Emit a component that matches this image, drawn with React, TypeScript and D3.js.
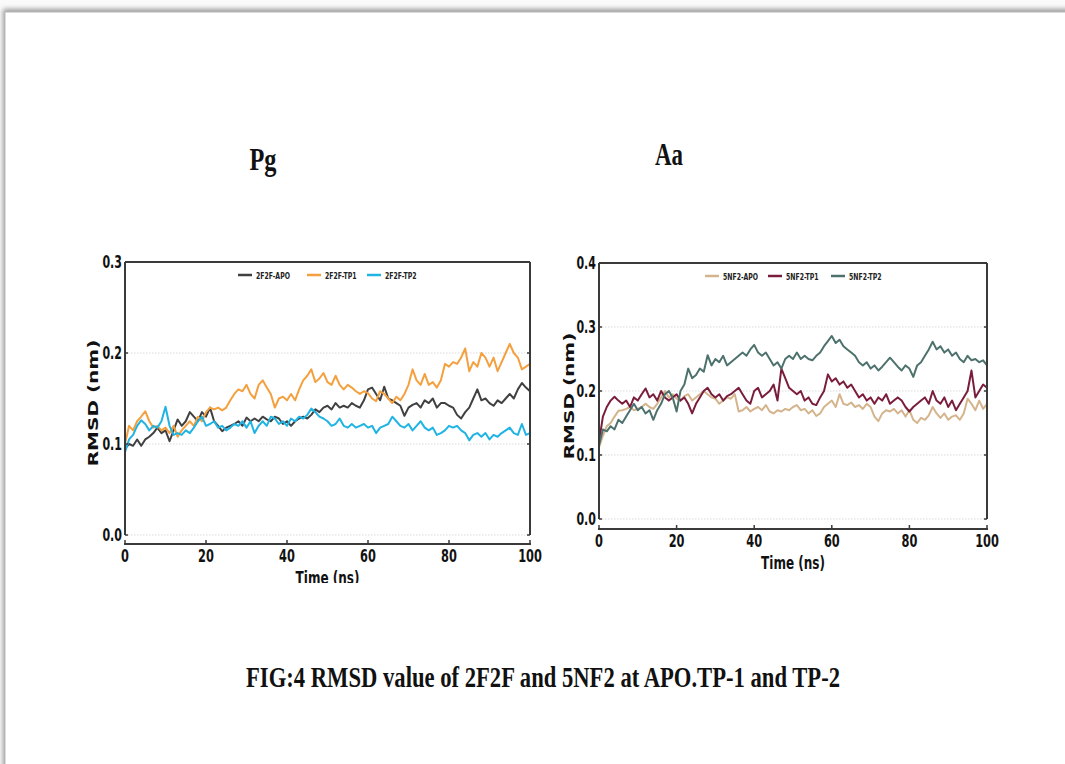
import React from "react";
import * as d3 from "d3";

// Simulation time axis (ns), one frame per nanosecond
const time: number[] = d3.range(0, 101);

// 2F2F (Pg) backbone RMSD, nm
const rmsd2f2fApo = [
  0.095, 0.100, 0.098, 0.105, 0.098, 0.105, 0.108, 0.112, 0.118, 0.112,
  0.115, 0.103, 0.115, 0.127, 0.120, 0.125, 0.135, 0.130, 0.125, 0.135,
  0.130, 0.140, 0.125, 0.120, 0.114, 0.118, 0.120, 0.122, 0.125, 0.120,
  0.129, 0.125, 0.128, 0.125, 0.130, 0.127, 0.125, 0.130, 0.128, 0.122,
  0.125, 0.120, 0.125, 0.128, 0.130, 0.128, 0.132, 0.138, 0.135, 0.140,
  0.142, 0.138, 0.145, 0.140, 0.142, 0.140, 0.145, 0.142, 0.140, 0.148,
  0.160, 0.162, 0.155, 0.148, 0.163, 0.150, 0.148, 0.145, 0.142, 0.131,
  0.140, 0.143, 0.145, 0.140, 0.148, 0.145, 0.150, 0.140, 0.145, 0.145,
  0.142, 0.140, 0.132, 0.128, 0.135, 0.140, 0.150, 0.160, 0.148, 0.150,
  0.145, 0.142, 0.148, 0.145, 0.150, 0.155, 0.150, 0.160, 0.167, 0.162,
  0.158,
];
const rmsd2f2fTp1 = [
  0.100, 0.120, 0.115, 0.125, 0.130, 0.136, 0.125, 0.118, 0.120, 0.115,
  0.118, 0.112, 0.120, 0.108, 0.115, 0.120, 0.125, 0.120, 0.130, 0.125,
  0.135, 0.140, 0.138, 0.140, 0.137, 0.140, 0.148, 0.155, 0.160, 0.158,
  0.165, 0.155, 0.150, 0.165, 0.170, 0.162, 0.155, 0.140, 0.150, 0.152,
  0.148, 0.155, 0.148, 0.160, 0.170, 0.175, 0.182, 0.168, 0.172, 0.178,
  0.168, 0.165, 0.175, 0.165, 0.160, 0.165, 0.162, 0.158, 0.155, 0.158,
  0.156, 0.150, 0.147, 0.158, 0.155, 0.150, 0.145, 0.152, 0.148, 0.155,
  0.165, 0.182, 0.170, 0.165, 0.177, 0.165, 0.168, 0.162, 0.170, 0.188,
  0.185, 0.190, 0.188, 0.195, 0.205, 0.180, 0.190, 0.185, 0.200, 0.195,
  0.185, 0.195, 0.180, 0.190, 0.200, 0.210, 0.200, 0.195, 0.182, 0.185,
  0.188,
];
const rmsd2f2fTp2 = [
  0.091, 0.105, 0.110, 0.120, 0.126, 0.122, 0.115, 0.120, 0.118, 0.125,
  0.141, 0.120, 0.110, 0.112, 0.110, 0.115, 0.112, 0.118, 0.125, 0.130,
  0.120, 0.122, 0.125, 0.118, 0.120, 0.115, 0.118, 0.122, 0.120, 0.125,
  0.118, 0.125, 0.112, 0.120, 0.125, 0.120, 0.130, 0.128, 0.122, 0.125,
  0.120, 0.128, 0.125, 0.130, 0.128, 0.132, 0.139, 0.135, 0.130, 0.128,
  0.125, 0.120, 0.122, 0.128, 0.120, 0.118, 0.122, 0.118, 0.120, 0.122,
  0.118, 0.120, 0.112, 0.118, 0.120, 0.122, 0.130, 0.125, 0.120, 0.118,
  0.122, 0.115, 0.120, 0.125, 0.118, 0.115, 0.118, 0.110, 0.112, 0.115,
  0.120, 0.118, 0.120, 0.115, 0.112, 0.104, 0.110, 0.112, 0.108, 0.112,
  0.105, 0.110, 0.108, 0.112, 0.115, 0.118, 0.112, 0.110, 0.122, 0.110,
  0.112,
];

// 5NF2 (Aa) backbone RMSD, nm
const rmsd5nf2Apo = [
  0.112, 0.130, 0.145, 0.150, 0.160, 0.169, 0.170, 0.172, 0.175, 0.170,
  0.172, 0.175, 0.180, 0.175, 0.172, 0.180, 0.190, 0.200, 0.190, 0.195,
  0.188, 0.185, 0.192, 0.195, 0.185, 0.190, 0.195, 0.200, 0.195, 0.190,
  0.188, 0.180, 0.185, 0.190, 0.188, 0.195, 0.168, 0.170, 0.175, 0.168,
  0.172, 0.175, 0.170, 0.178, 0.168, 0.165, 0.170, 0.168, 0.172, 0.170,
  0.175, 0.178, 0.170, 0.172, 0.165, 0.170, 0.161, 0.165, 0.175, 0.180,
  0.185, 0.175, 0.195, 0.180, 0.178, 0.182, 0.175, 0.178, 0.172, 0.180,
  0.175, 0.160, 0.153, 0.165, 0.170, 0.168, 0.172, 0.165, 0.170, 0.160,
  0.170, 0.155, 0.150, 0.158, 0.155, 0.162, 0.175, 0.165, 0.158, 0.165,
  0.155, 0.160, 0.162, 0.155, 0.165, 0.188, 0.180, 0.170, 0.185, 0.172,
  0.180,
];
const rmsd5nf2Tp1 = [
  0.120, 0.160, 0.175, 0.185, 0.191, 0.185, 0.180, 0.185, 0.175, 0.190,
  0.185, 0.195, 0.204, 0.190, 0.195, 0.185, 0.200, 0.190, 0.185, 0.190,
  0.195, 0.185, 0.190, 0.180, 0.165, 0.180, 0.190, 0.200, 0.205, 0.195,
  0.190, 0.195, 0.185, 0.192, 0.195, 0.200, 0.205, 0.195, 0.185, 0.180,
  0.200, 0.205, 0.190, 0.195, 0.200, 0.210, 0.185, 0.235, 0.220, 0.205,
  0.200, 0.195, 0.200, 0.185, 0.190, 0.180, 0.178, 0.190, 0.200, 0.226,
  0.215, 0.220, 0.210, 0.215, 0.205, 0.210, 0.200, 0.190, 0.195, 0.185,
  0.190, 0.180, 0.190, 0.185, 0.195, 0.180, 0.185, 0.190, 0.185, 0.175,
  0.168, 0.175, 0.180, 0.185, 0.190, 0.180, 0.200, 0.185, 0.180, 0.190,
  0.175, 0.185, 0.170, 0.180, 0.190, 0.200, 0.232, 0.190, 0.200, 0.210,
  0.205,
];
const rmsd5nf2Tp2 = [
  0.115, 0.140, 0.137, 0.145, 0.140, 0.155, 0.150, 0.160, 0.170, 0.180,
  0.170, 0.175, 0.165, 0.170, 0.155, 0.170, 0.180, 0.195, 0.200, 0.190,
  0.168, 0.200, 0.210, 0.235, 0.220, 0.225, 0.235, 0.230, 0.256, 0.240,
  0.250, 0.245, 0.255, 0.240, 0.245, 0.250, 0.255, 0.260, 0.255, 0.265,
  0.272, 0.260, 0.255, 0.260, 0.250, 0.240, 0.245, 0.235, 0.250, 0.255,
  0.250, 0.260, 0.250, 0.255, 0.250, 0.248, 0.255, 0.260, 0.270, 0.278,
  0.286, 0.275, 0.280, 0.270, 0.265, 0.260, 0.255, 0.245, 0.240, 0.245,
  0.235, 0.240, 0.232, 0.238, 0.245, 0.252, 0.245, 0.238, 0.232, 0.240,
  0.235, 0.222, 0.240, 0.245, 0.255, 0.265, 0.277, 0.265, 0.270, 0.260,
  0.265, 0.255, 0.260, 0.250, 0.245, 0.255, 0.248, 0.250, 0.245, 0.248,
  0.240,
];

const xTicks = [0, 20, 40, 60, 80, 100];
const yTicksPg = [0.0, 0.1, 0.2, 0.3];
const yTicksAa = [0.0, 0.1, 0.2, 0.3, 0.4];

const seriesPg = [
  { name: "2F2F-APO", values: rmsd2f2fApo, color: "#404040" },
  { name: "2F2F-TP1", values: rmsd2f2fTp1, color: "#F4A03E" },
  { name: "2F2F-TP2", values: rmsd2f2fTp2, color: "#1FB4E3" },
];
const seriesAa = [
  { name: "5NF2-APO", values: rmsd5nf2Apo, color: "#D4B48C" },
  { name: "5NF2-TP1", values: rmsd5nf2Tp1, color: "#7A1D3C" },
  { name: "5NF2-TP2", values: rmsd5nf2Tp2, color: "#4D716C" },
];

const SANS = "'DejaVu Sans', Verdana, sans-serif";
const SERIF = "'Liberation Serif', 'Times New Roman', serif";
const SQUEEZE = 0.65; // horizontal condensing of the panel lettering

type Series = { name: string; values: number[]; color: string };

type PanelProps = {
  id: string;
  series: Series[];
  xRange: [number, number];
  yMax: number;
  yRange: [number, number];
  axisOffset: number;
  yTicks: number[];
  legendY: number;
  legendX: number[];
  yLabelX: number;
  clipBottom?: number;
};

function Squeezed({ x, y, size, anchor = "start", children, weight = "bold", fill = "#111" }: any) {
  return (
    <text
      transform={`translate(${x},${y}) scale(${SQUEEZE},1)`}
      textAnchor={anchor}
      fontFamily={SANS}
      fontWeight={weight}
      fontSize={size}
      fill={fill}
    >
      {children}
    </text>
  );
}

function Panel(p: PanelProps) {
  const x = d3.scaleLinear().domain([0, 100]).range(p.xRange);
  const y = d3.scaleLinear().domain([0, p.yMax]).range(p.yRange);
  const [x0, x1] = p.xRange;
  const yBottom = p.yRange[0];
  const yTop = p.yRange[1];
  const axisY = yBottom + p.axisOffset;
  const line = d3
    .line<number>()
    .x((_, i) => x(time[i]))
    .y((v) => y(v));
  const fmt = d3.format(".1f");
  const spine = "#3a3a3a";

  return (
    <g clipPath={p.clipBottom ? `url(#clip-${p.id})` : undefined}>
      {p.clipBottom ? (
        <defs>
          <clipPath id={`clip-${p.id}`}>
            <rect x={0} y={0} width={1065} height={p.clipBottom} />
          </clipPath>
        </defs>
      ) : null}

      {/* horizontal grid */}
      {p.yTicks.map((t) => (
        <line
          key={`g${t}`}
          x1={x0}
          x2={x1}
          y1={y(t)}
          y2={y(t)}
          stroke="#d9d9d9"
          strokeWidth={1}
          strokeDasharray="1.5,1.5"
        />
      ))}

      {/* traces */}
      {p.series.map((s) => (
        <path
          key={s.name}
          d={line(s.values) || ""}
          fill="none"
          stroke={s.color}
          strokeWidth={2}
          strokeLinejoin="round"
        />
      ))}

      {/* frame */}
      <line x1={x0} x2={x1} y1={yTop} y2={yTop} stroke={spine} strokeWidth={2} />
      <line x1={x0} x2={x0} y1={yTop} y2={yBottom} stroke={spine} strokeWidth={2} />
      <line x1={x1} x2={x1} y1={yTop} y2={yBottom} stroke={spine} strokeWidth={2} />
      <line x1={x0 - 1} x2={x1 + 1} y1={axisY} y2={axisY} stroke={spine} strokeWidth={2} />

      {/* y ticks, inward on both sides */}
      {p.yTicks.map((t) => (
        <g key={`yt${t}`}>
          <line x1={x0} x2={x0 + 3} y1={y(t)} y2={y(t)} stroke={spine} strokeWidth={1.5} />
          <line x1={x1} x2={x1 - 3} y1={y(t)} y2={y(t)} stroke={spine} strokeWidth={1.5} />
          <Squeezed x={x0 - 3} y={y(t) + 6} size={17} anchor="end">
            {fmt(t)}
          </Squeezed>
        </g>
      ))}

      {/* x ticks */}
      {xTicks.map((t) => (
        <g key={`xt${t}`}>
          <line x1={x(t)} x2={x(t)} y1={axisY} y2={axisY - 4} stroke={spine} strokeWidth={1.5} />
          <Squeezed x={x(t)} y={axisY + 18} size={17.5} anchor="middle">
            {t}
          </Squeezed>
        </g>
      ))}

      {/* axis titles */}
      <Squeezed x={(x0 + x1) / 2} y={axisY + 40} size={18.5} anchor="middle">
        Time (ns)
      </Squeezed>
      <text
        transform={`translate(${p.yLabelX},${(yTop + axisY) / 2}) scale(0.7,1) rotate(-90)`}
        textAnchor="middle"
        fontFamily={SANS}
        fontWeight="bold"
        fontSize={20}
        fill="#111"
      >
        RMSD (nm)
      </text>

      {/* legend */}
      {p.series.map((s, i) => (
        <g key={`lg${s.name}`}>
          <line
            x1={p.legendX[i]}
            x2={p.legendX[i] + 14}
            y1={p.legendY}
            y2={p.legendY}
            stroke={s.color}
            strokeWidth={2.5}
          />
          <Squeezed x={p.legendX[i] + 18} y={p.legendY + 3.5} size={9.5} fill="#222">
            {s.name}
          </Squeezed>
        </g>
      ))}
    </g>
  );
}

export default function App() {
  return (
    <svg
      width={1065}
      height={764}
      style={{ position: "absolute", left: 0, top: 0, background: "#fff" }}
    >
      <defs>
        <filter id="pageShadow" x="-5%" y="-5%" width="110%" height="110%">
          <feGaussianBlur stdDeviation="2.5" />
        </filter>
      </defs>

      {/* document page */}
      <rect x={0} y={0} width={1065} height={764} fill="#fafafa" />
      <rect x={3} y={9} width={1100} height={800} fill="#9a9a9a" filter="url(#pageShadow)" />
      <rect x={5} y={12} width={1100} height={800} fill="#ffffff" stroke="#b8b8b8" strokeWidth={1} />

      {/* panel headings */}
      <text x={263} y={170} textAnchor="middle" fontFamily={SERIF} fontWeight="bold" fontSize={31} textLength={27} lengthAdjust="spacingAndGlyphs" fill="#111">
        Pg
      </text>
      <text x={669} y={165} textAnchor="middle" fontFamily={SERIF} fontWeight="bold" fontSize={31} textLength={28} lengthAdjust="spacingAndGlyphs" fill="#111">
        Aa
      </text>

      <Panel
        id="pg"
        series={seriesPg}
        xRange={[125, 530]}
        yMax={0.3}
        yRange={[535, 262]}
        axisOffset={9}
        yTicks={yTicksPg}
        legendY={275}
        legendX={[238, 307, 367]}
        yLabelX={98}
        clipBottom={583}
      />
      <Panel
        id="aa"
        series={seriesAa}
        xRange={[599, 987]}
        yMax={0.4}
        yRange={[519, 263]}
        axisOffset={10}
        yTicks={yTicksAa}
        legendY={276}
        legendX={[705, 768, 831]}
        yLabelX={574}
      />

      {/* caption */}
      <text x={543} y={687} textAnchor="middle" fontFamily={SERIF} fontWeight="bold" fontSize={30} textLength={594} lengthAdjust="spacingAndGlyphs" fill="#111">
        FIG:4 RMSD value of 2F2F and 5NF2 at APO.TP-1 and TP-2
      </text>
    </svg>
  );
}
